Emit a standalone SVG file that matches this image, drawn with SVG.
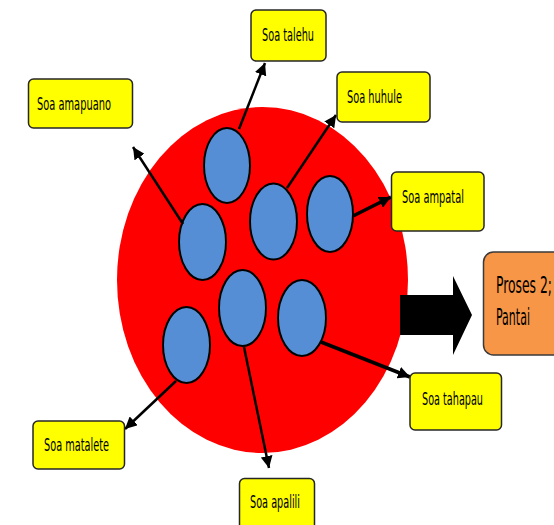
<svg xmlns="http://www.w3.org/2000/svg" width="554" height="525" viewBox="0 0 554 525">
<style>
.box{fill:#FFFF00;stroke:#262626;stroke-width:1.5}
.lbl{font-family:"Liberation Sans Narrow","DejaVu Sans Condensed","Liberation Sans",sans-serif;font-size:17.5px;fill:#000}
.big{font-family:"Liberation Sans Narrow","DejaVu Sans Condensed","Liberation Sans",sans-serif;font-size:23px;fill:#000}
.cell{fill:#558ED5;stroke:#000;stroke-width:2}
.con{stroke:#000;stroke-width:2.5;fill:none;marker-end:url(#ah)}
.thick{stroke-width:3.5}
</style>
<defs>
<marker id="ah" markerUnits="userSpaceOnUse" markerWidth="14" markerHeight="12" refX="12" refY="6" orient="auto">
<path d="M0,0 L12,6 L0,12 Z" fill="#000"/>
</marker>
</defs>
<rect width="554" height="525" fill="#fff"/>
<g id="cluster">
<ellipse cx="262.5" cy="280" rx="145.5" ry="173" fill="#FF0000"/>
<ellipse class="cell" cx="227" cy="165.5" rx="23" ry="37.5"/>
<ellipse class="cell" cx="202.5" cy="242" rx="23.5" ry="38"/>
<ellipse class="cell" cx="273.5" cy="221.5" rx="23.5" ry="38"/>
<ellipse class="cell" cx="330" cy="214" rx="23" ry="38"/>
<ellipse class="cell" cx="242.5" cy="308" rx="23.5" ry="38"/>
<ellipse class="cell" cx="186.5" cy="345" rx="23.5" ry="38"/>
<ellipse class="cell" cx="302" cy="318" rx="24" ry="38"/>
</g>
<g id="connectors">
<line class="con" x1="239" y1="129" x2="265" y2="63"/>
<line class="con" x1="183" y1="224" x2="133" y2="147"/>
<line class="con" x1="287" y1="188" x2="336" y2="115"/>
<line class="con thick" x1="353" y1="216" x2="391" y2="197"/>
<line class="con thick" x1="321" y1="342" x2="410" y2="377"/>
<line class="con" x1="176" y1="381" x2="125" y2="429"/>
<line class="con" x1="244" y1="347" x2="269" y2="468"/>
<polygon points="400,295 453,295 453,276 472,315 453,355 453,335 400,335" fill="#000"/>
</g>
<g id="talehu">
<rect class="box" x="251" y="10" width="75" height="51" rx="5"/>
<text class="lbl" x="262" y="41" textLength="52" lengthAdjust="spacingAndGlyphs">Soa talehu</text>
</g>
<g id="amapuano">
<rect class="box" x="28.5" y="79" width="104" height="49" rx="5"/>
<text class="lbl" x="37" y="110" textLength="74" lengthAdjust="spacingAndGlyphs">Soa amapuano</text>
</g>
<g id="huhule">
<rect class="box" x="337" y="72" width="93" height="50" rx="5"/>
<text class="lbl" x="347" y="103" textLength="55" lengthAdjust="spacingAndGlyphs">Soa huhule</text>
</g>
<g id="ampatal">
<rect class="box" x="391.5" y="172" width="92.5" height="59" rx="5"/>
<text class="lbl" x="402" y="203" textLength="62" lengthAdjust="spacingAndGlyphs">Soa ampatal</text>
</g>
<g id="tahapau">
<rect class="box" x="410" y="373" width="91.5" height="57" rx="5"/>
<text class="lbl" x="422" y="405" textLength="61" lengthAdjust="spacingAndGlyphs">Soa tahapau</text>
</g>
<g id="matalete">
<rect class="box" x="33" y="421" width="91.5" height="48" rx="5"/>
<text class="lbl" x="44" y="451" textLength="65" lengthAdjust="spacingAndGlyphs">Soa matalete</text>
</g>
<g id="apalili">
<rect class="box" x="239.5" y="478.5" width="75" height="55" rx="5"/>
<text class="lbl" x="250" y="508" textLength="50" lengthAdjust="spacingAndGlyphs">Soa apalili</text>
</g>
<g id="proses">
<rect x="483.5" y="252" width="100" height="103" rx="10" fill="#F79646" stroke="#3a3a3a" stroke-width="1.5"/>
<text class="big" x="496" y="293" textLength="56" lengthAdjust="spacingAndGlyphs">Proses 2;</text>
<text class="big" x="496" y="325" textLength="34" lengthAdjust="spacingAndGlyphs">Pantai</text>
</g>
</svg>
